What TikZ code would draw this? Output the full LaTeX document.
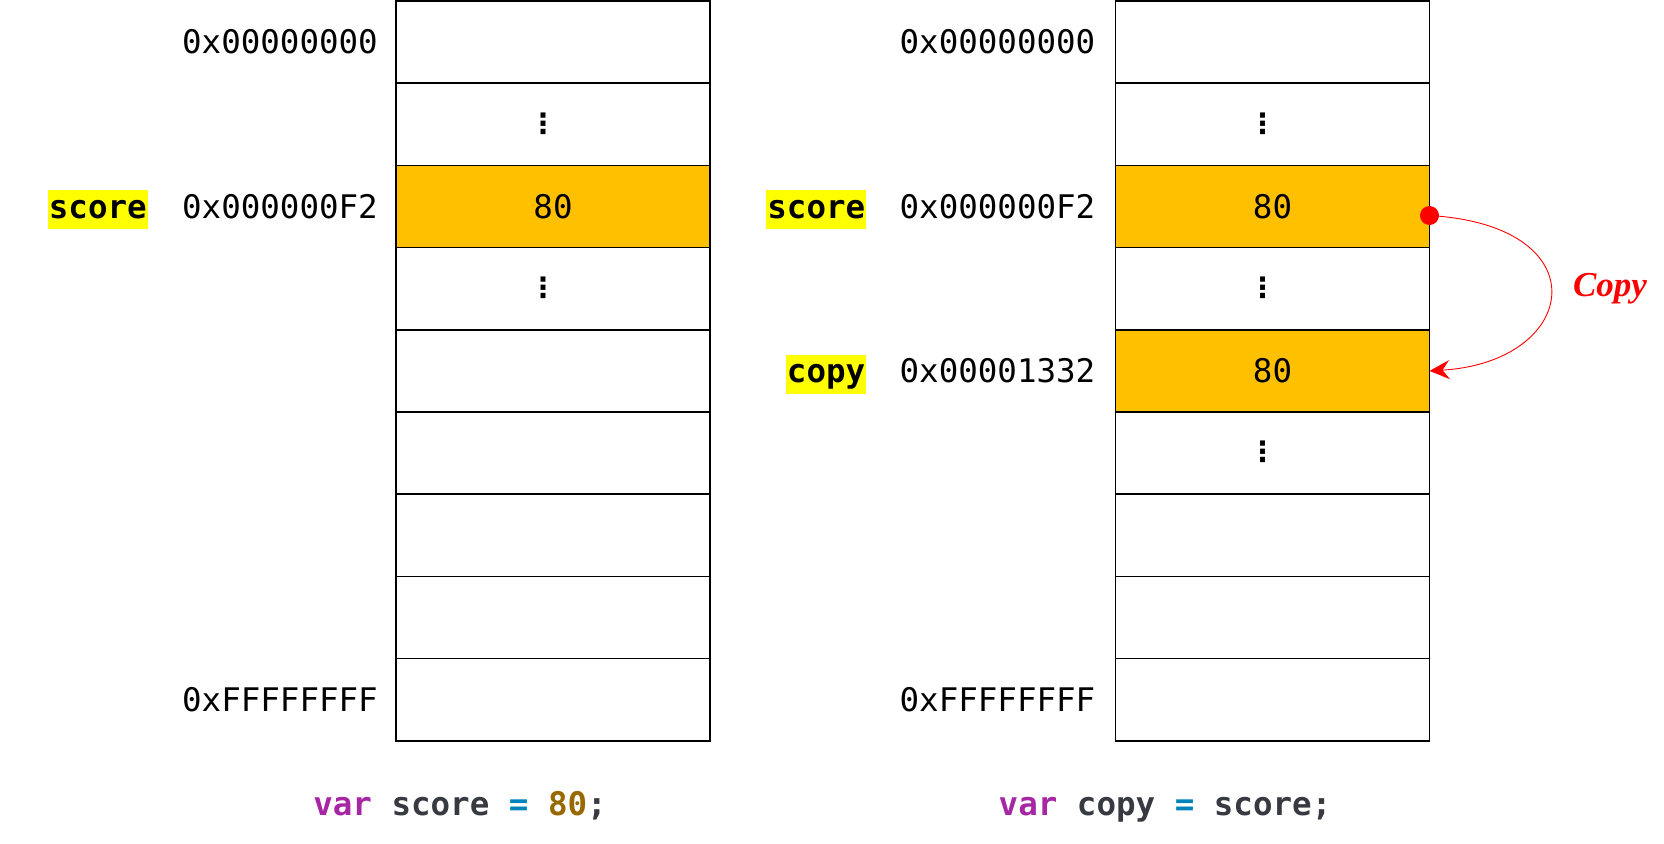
\documentclass[tikz,border=0pt]{standalone}
\usepackage{fontspec}
\setmainfont{Liberation Serif}
\newfontfamily\addrfont{DejaVu Sans Mono}
\newfontfamily\dotsfont{DejaVu Sans}
\usetikzlibrary{arrows.meta}
\usetikzlibrary{positioning}
\definecolor{cellfill}{HTML}{FFC000}
\definecolor{hilite}{HTML}{FFFF00}
\definecolor{kwpurple}{HTML}{A626A4}
\definecolor{codegray}{HTML}{383A42}
\definecolor{opblue}{HTML}{0184BC}
\definecolor{numbrown}{HTML}{986801}
\newcommand\bigmono{\addrfont\fontsize{32.5}{38}\selectfont}
\tikzset{cell/.style = {draw, line width=1.6pt, minimum width=314pt, minimum height=82.2pt,
                        inner sep=0pt, outer sep=0pt, font=\bigmono},
         addr/.style = {font=\bigmono, inner sep=0pt},
         varname/.style = {fill=hilite, font=\bigmono\bfseries, inner xsep=1pt, inner ysep=4pt,
                           text height=24pt, text depth=7pt, anchor=base east},
         vdot/.style = {font=\dotsfont\bfseries\fontsize{28}{28}\selectfont, inner sep=0pt},
         code/.style = {font=\bigmono\bfseries, inner sep=0pt, anchor=base}}

\begin{document}
\begin{tikzpicture}[x=1pt, y=-1pt]
      \useasboundingbox (0, 0) rectangle (1664, 843);

      % memory columns
      \foreach \i/\f in {1/white, 2/white, 3/cellfill, 4/white, 5/white, 6/white, 7/white, 8/white, 9/white}
        \node [cell, fill=\f] (L\i) at (553, {1 + 82.2*(\i - 0.5)}) {};
      \foreach \i/\f in {1/white, 2/white, 3/cellfill, 4/white, 5/cellfill, 6/white, 7/white, 8/white, 9/white}
        \node [cell, fill=\f] (R\i) at (1272.5, {1 + 82.2*(\i - 0.5)}) {};

      \node [addr] (L3v) at (L3) {80};
      \node [vdot] (L2d) at ([xshift=-10pt, yshift=1pt]L2.center) {⋮};
      \node [vdot] (L4d) at ([xshift=-10pt, yshift=1pt]L4.center) {⋮};

      \node [addr] (R3v) at (R3) {80};
      \node [addr] (R5v) at (R5) {80};
      \node [vdot] (R2d) at ([xshift=-10pt, yshift=1pt]R2.center) {⋮};
      \node [vdot] (R4d) at ([xshift=-10pt, yshift=1pt]R4.center) {⋮};
      \node [vdot] (R6d) at ([xshift=-10pt, yshift=1pt]R6.center) {⋮};

      % addresses
      \node [addr, left=18pt of L1] (La1) {0x00000000};
      \node [addr, left=18pt of L3] (La3) {0x000000F2};
      \node [addr, left=18pt of L9] (La9) {0xFFFFFFFF};
      \node [addr, left=20pt of R1] (Ra1) {0x00000000};
      \node [addr, left=20pt of R3] (Ra3) {0x000000F2};
      \node [addr, left=20pt of R5] (Ra5) {0x00001332};
      \node [addr, left=20pt of R9] (Ra9) {0xFFFFFFFF};

      % variables
      \node [varname] (Lscore) at ([xshift=-34pt]La3.base west) {score};
      \node [varname] (Rscore) at ([xshift=-33pt]Ra3.base west) {score};
      \node [varname] (Rcopy) at ([xshift=-33pt]Ra5.base west) {copy};

      % copy arrow
      \node [circle, fill=red, inner sep=0pt, minimum size=19pt] (src) at ([yshift=-9pt]R3.east) {};
      \draw [red, line width=0.9pt, -{Stealth[length=20pt, width=19pt, inset=7pt]}]
            (src.center) .. controls +(172, 10) and +(150, -9) .. (R5.east);
      \node [red, font=\fontsize{35}{40}\selectfont\bfseries\itshape] (lbl) at (1610, 289) {Copy};

      % code
      \node [code] (Lcode) at (460, 815) {\color{kwpurple}var \color{codegray}score \color{opblue}= \color{numbrown}80\color{codegray};};
      \node [code] (Rcode) at (1165, 815) {\color{kwpurple}var \color{codegray}copy \color{opblue}= \color{codegray}score;};
\end{tikzpicture}
\end{document}
